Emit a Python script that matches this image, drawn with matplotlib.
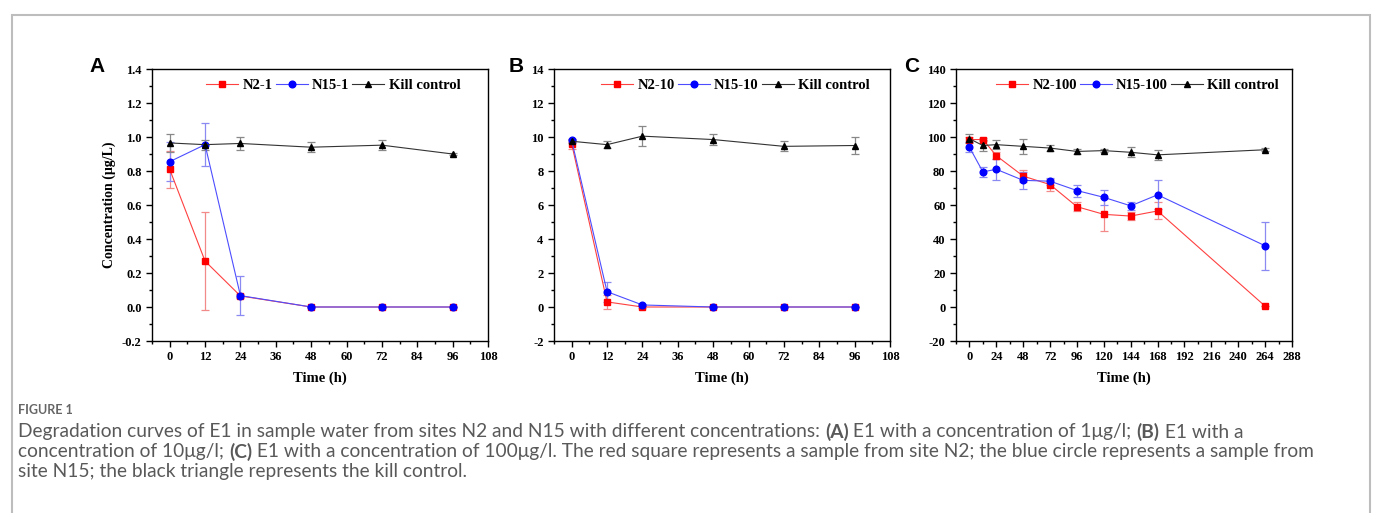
import matplotlib
matplotlib.use("Agg")
import matplotlib.pyplot as plt
from matplotlib.ticker import MultipleLocator
from matplotlib.patches import Rectangle

# ---- data ----
t_short = [0, 12, 24, 48, 72, 96]
t_long = [0, 12, 24, 48, 72, 96, 120, 144, 168, 264]

# panel A, 1 ug/L
n2_1 = [0.81, 0.27, 0.065, 0.0, 0.0, 0.0]
n2_1_err = [0.11, 0.29, 0.01, 0.0, 0.0, 0.0]
n15_1 = [0.855, 0.955, 0.067, 0.0, 0.0, 0.0]
n15_1_err = [0.115, 0.125, 0.115, 0.0, 0.0, 0.0]
kill_1 = [0.965, 0.955, 0.962, 0.94, 0.952, 0.90]
kill_1_err = [0.055, 0.03, 0.04, 0.03, 0.03, 0.005]

# panel B, 10 ug/L
n2_10 = [9.6, 0.3, 0.0, 0.0, 0.0, 0.0]
n2_10_err = [0.3, 0.4, 0.05, 0.0, 0.0, 0.0]
n15_10 = [9.8, 0.9, 0.12, 0.0, 0.0, 0.0]
n15_10_err = [0.1, 0.6, 0.05, 0.0, 0.0, 0.0]
kill_10 = [9.75, 9.55, 10.05, 9.85, 9.45, 9.5]
kill_10_err = [0.1, 0.2, 0.6, 0.3, 0.3, 0.5]

# panel C, 100 ug/L
n2_100 = [98.5, 98.5, 89, 77, 72, 59, 54.5, 53.5, 56.5, 0.5]
n2_100_err = [1.5, 1, 2, 3.5, 3.5, 2.5, 9.5, 2.5, 5, 0]
n15_100 = [94, 79.5, 81, 74.5, 74, 68.5, 64.5, 59.5, 66, 36]
n15_100_err = [3, 3, 6, 5, 2, 3.5, 4.5, 2.5, 8.5, 14]
kill_100 = [99, 95, 95.5, 94.5, 93.5, 91.5, 92, 91, 89.5, 92.5]
kill_100_err = [2.5, 3.5, 2.5, 4.5, 1.5, 1.5, 1, 3, 3, 1]

panels = [
    ("A", t_short, [(n2_1, n2_1_err, "N2-1"), (n15_1, n15_1_err, "N15-1"), (kill_1, kill_1_err, "Kill control")],
     (-6, 108), 12, 6, (-0.2, 1.4), 0.2, 0.1, "%.1f"),
    ("B", t_short, [(n2_10, n2_10_err, "N2-10"), (n15_10, n15_10_err, "N15-10"), (kill_10, kill_10_err, "Kill control")],
     (-6, 108), 12, 6, (-2, 14), 2, 1, "%d"),
    ("C", t_long, [(n2_100, n2_100_err, "N2-100"), (n15_100, n15_100_err, "N15-100"), (kill_100, kill_100_err, "Kill control")],
     (-12, 288), 24, 12, (-20, 140), 20, 10, "%d"),
]

styles = [
    dict(color="#ff4040", mcolor="#ff0000", marker="s", ecolor="#f28a8a"),
    dict(color="#4d4dff", mcolor="#0000ff", marker="o", ecolor="#8a8af2"),
    dict(color="#333333", mcolor="#000000", marker="^", ecolor="#888888"),
]

serif = "Liberation Serif"

fig = plt.figure(figsize=(13.75, 5.13), dpi=100)
W, H = 1375.0, 513.0

# outer frame
fig.patches.append(Rectangle((12 / W, -0.1), (1370 - 12) / W, (513 - 15) / H + 0.1,
                             transform=fig.transFigure, fill=False,
                             edgecolor="#bdbdbd", linewidth=1.5))

lefts = [152, 554, 956]
letter_x = [97, 516, 912]
for i, (letter, t, series, xlim, xmaj, xmin, ylim, ymaj, ymin, yfmt) in enumerate(panels):
    ax = fig.add_axes([lefts[i] / W, (513 - 341) / H, 336 / W, 272 / H])
    handles, labels = [], []
    for (y, e, lab), st in zip(series, styles):
        c = ax.errorbar(t, y, yerr=e, color=st["color"], marker=st["marker"], markersize=4.8,
                        markerfacecolor=st["mcolor"], markeredgecolor=st["mcolor"],
                        linewidth=0.8, ecolor=st["ecolor"], elinewidth=0.9, capsize=3,
                        capthick=0.9)
        handles.append(c[0])
        labels.append(lab)
    ax.set_ylim(*ylim)
    ax.xaxis.set_minor_locator(MultipleLocator(xmin))
    ax.yaxis.set_major_locator(MultipleLocator(ymaj))
    ax.yaxis.set_minor_locator(MultipleLocator(ymin))
    ax.set_xticks([v for v in range(0, int(xlim[1]) + 1, xmaj)])
    ax.set_xlim(*xlim)
    ax.yaxis.set_major_formatter(plt.FormatStrFormatter(yfmt))
    ax.tick_params(which="major", direction="out", length=4, width=1, labelsize=9)
    ax.tick_params(which="minor", direction="out", length=2.5, width=1)
    for lbl in ax.get_xticklabels() + ax.get_yticklabels():
        lbl.set_fontfamily(serif)
        lbl.set_fontweight("bold")
    for sp in ax.spines.values():
        sp.set_linewidth(1.0)
    ax.set_xlabel("Time (h)", fontfamily=serif, fontweight="bold", fontsize=10.5, labelpad=6)
    if i == 0:
        ax.set_ylabel("Concentration (μg/L)", fontfamily=serif, fontweight="bold", fontsize=10, labelpad=4)
    ax.legend(handles, labels, loc="upper center", bbox_to_anchor=(0.54, 1.0), ncol=3, frameon=False,
              prop=dict(family=serif, weight="bold", size=10.5), handlelength=2.2,
              handletextpad=0.3, columnspacing=0.2, borderaxespad=0.3)
    fig.text(letter_x[i] / W, (513 - 66) / H, letter, fontfamily="Liberation Sans",
             fontweight="bold", fontsize=15, ha="center", va="center")

# caption
cap_font = "Lato"
cap_col = "#595959"
cap_size = 13.8
fig.text(18 / W, (513 - 410) / H, "FIGURE 1", fontfamily=cap_font, fontweight="bold",
         fontsize=9, color="#666666", va="center")

lines = [
    [("Degradation curves of E1 in sample water from sites N2 and N15 with different concentrations: ", "normal"),
     ("(A)", "bold"), (" E1 with a concentration of 1μg/l; ", "normal"), ("(B)", "bold"), (" E1 with a", "normal")],
    [("concentration of 10μg/l; ", "normal"), ("(C)", "bold"),
     (" E1 with a concentration of 100μg/l. The red square represents a sample from site N2; the blue circle represents a sample from", "normal")],
    [("site N15; the black triangle represents the kill control.", "normal")],
]
line_y = [432, 452, 472]
ax0 = fig.axes[0]
for segs, yy in zip(lines, line_y):
    prev = None
    for txt, wt in segs:
        if prev is None:
            prev = fig.text(18 / W, (513 - yy) / H, txt, fontfamily=cap_font, fontweight=wt,
                            fontsize=cap_size, color=cap_col, va="center")
        else:
            prev = ax0.annotate(txt, xy=(1, 0.5), xycoords=prev, va="center", ha="left",
                                fontfamily=cap_font, fontweight=wt, fontsize=cap_size,
                                color=cap_col, annotation_clip=False)

fig.savefig("out.png", dpi=100)
